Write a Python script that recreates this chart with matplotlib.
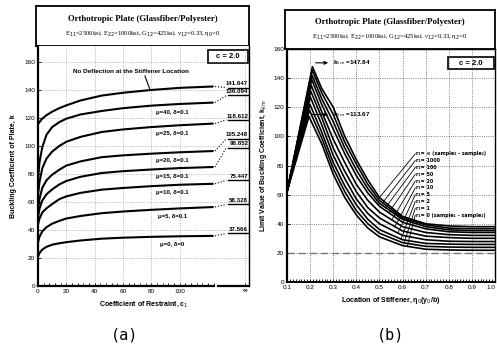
import numpy as np
import matplotlib
matplotlib.use("Agg")
import matplotlib.pyplot as plt
from matplotlib.patches import Rectangle

plt.rcParams['font.family'] = ['Liberation Sans Narrow', 'Liberation Sans', 'DejaVu Sans']

# ---- panel (a): buckling coefficient vs coefficient of restraint ----
c1 = [0, 1, 3, 6, 10, 15, 20, 30, 45, 60, 80, 100, 124]
k_no_defl = [115.5, 117, 119.5, 122, 124.5, 127, 129, 132.5, 136, 138, 140, 141.5, 142.5]
k_mu40 = [76, 88, 99, 108, 113.5, 117, 119.5, 122.5, 125, 127, 128.8, 130, 131]
k_mu25 = [65, 74, 84, 91, 96, 100, 103, 106.5, 110, 111.8, 113.5, 114.8, 116]
k_mu20 = [54, 62, 70, 75.5, 79.5, 83, 86, 89, 92, 93.3, 94.5, 95.5, 96.4]
k_mu15 = [49, 55, 61, 65.5, 69, 72.5, 75, 78, 80.7, 82, 83.2, 84.2, 85]
k_mu10 = [44, 48, 52.5, 55.5, 58.5, 62, 64, 66.5, 68.8, 70, 71.3, 72.3, 73]
k_mu5 = [31, 35, 39, 42, 44.5, 46.5, 48.2, 50, 52, 53.2, 54.4, 55.4, 56.4]
k_mu0 = [21, 23.5, 26, 28, 29.5, 30.5, 31.3, 32.5, 33.8, 34.5, 35.1, 35.5, 35.8]
curves_a = [k_no_defl, k_mu40, k_mu25, k_mu20, k_mu15, k_mu10, k_mu5, k_mu0]
curve_names = [None, "μ=40, δ=0.1", "μ=25, δ=0.1", "μ=20, δ=0.1", "μ=15, δ=0.1",
               "μ=10, δ=0.1", "μ=5, δ=0.1", "μ=0, δ=0"]
k_limit = [141.647, 136.094, 118.612, 105.248, 98.852, 75.447, 58.328, 37.566]
x_ticks_a = [0, 20, 40, 60, 80, 100]
c1_inf = 146

# ---- panel (b): limit value vs stiffener location ----
r1_names = ["∞ (sample₃ - sample₂)", "1000", "100", "50", "20", "10", "5", "2", "1",
            "0 (sample₁ - sample₂)"]
eta_start, k_start = 0.1, 62
peak_eta = [0.21, 0.209, 0.208, 0.207, 0.205, 0.203, 0.201, 0.199, 0.197, 0.195]
peak_k = [147.84, 145.5, 142, 139, 135, 131, 127, 122, 118, 113.67]
eta = [0.25, 0.3, 0.35, 0.4, 0.45, 0.5, 0.6, 0.7, 0.8, 0.9, 1.0]
k_r_inf = [133, 120, 100, 84, 70, 58, 45, 40, 38.5, 38, 38]
k_r1000 = [130, 115, 96, 81, 67, 56, 44, 39.3, 37, 36.6, 36.6]
k_r100 = [126, 110, 92, 77, 64, 54, 43, 38, 35.8, 35.3, 35.3]
k_r50 = [122, 105, 88, 73, 61, 52, 41, 36.5, 34.5, 34, 34]
k_r20 = [117, 98, 82, 67, 56, 48, 38, 34, 32.5, 32, 32]
k_r10 = [113, 92, 76, 62, 51, 44, 35, 31.5, 30.5, 30, 30]
k_r5 = [108, 87, 71, 57, 47, 40, 32, 29, 28, 27.8, 27.8]
k_r2 = [103, 82, 66, 53, 43, 36, 29, 26.5, 26, 25.8, 25.8]
k_r1 = [99, 78, 62, 49, 40, 33.5, 27, 24.5, 24, 23.8, 23.8]
k_r0 = [95, 74, 58, 46, 37, 31, 25, 22.5, 22, 21.8, 21.8]
curves_b = [k_r_inf, k_r1000, k_r100, k_r50, k_r20, k_r10, k_r5, k_r2, k_r1, k_r0]

W, H = 497, 347
fig = plt.figure(figsize=(W / 100, H / 100), dpi=100)


def rect(x0, y0, x1, y1):
    return [x0 / W, 1 - y1 / H, (x1 - x0) / W, (y1 - y0) / H]


def title_box(r, sub):
    t = fig.add_axes(r)
    t.set_xticks([])
    t.set_yticks([])
    for s in t.spines.values():
        s.set_linewidth(1.3)
    t.text(0.5, 0.68, "Orthotropic Plate (Glassfiber/Polyester)", ha='center', va='center',
           fontsize=6.3, fontweight='bold', family=['Liberation Serif', 'DejaVu Serif'])
    t.text(0.5, 0.3, sub, ha='center', va='center', fontsize=4.8,
           family=['Liberation Serif', 'DejaVu Serif'])


# ---------------- panel (a) ----------------
title_box(rect(36, 6, 249, 46),
          "E$_{11}$=2500ksi, E$_{22}$=1000ksi, G$_{12}$=425ksi, ν$_{12}$=0.33, η$_0$=0")
ax = fig.add_axes(rect(38, 46, 249, 286))
ax.set_xlim(0, 149)
ax.set_ylim(0, 171.4)
for i, k in enumerate(curves_a):
    ax.plot(c1, k, color='black', lw=1.5, solid_capstyle='butt')
    # dotted connector to the value at infinity
    ax.plot([c1[-1] + 1, 133], [k[-1], k_limit[i]], color='black', lw=0.8, ls=(0, (1, 1.6)))
    ax.plot([134, 149], [k_limit[i], k_limit[i]], color='black', lw=1.0)
    ax.text(148.5, k_limit[i] + 1, f"{k_limit[i]:.3f}", ha='right', va='bottom',
            fontsize=4.4, fontweight='bold')
    if curve_names[i]:
        ax.text(95, np.interp(95, c1, k) - 5.5, curve_names[i], ha='center', va='center',
                fontsize=4.3, fontweight='bold')
ax.text(25, 153, "No Deflection at the Stiffener Location", ha='left', va='center',
        fontsize=4.6, fontweight='bold')
ax.plot([75.5, 79], [150, np.interp(79, c1, k_no_defl) + 0.5], color='black', lw=0.8)
ax.add_patch(Rectangle((120, 159.5), 28, 9, fill=False, lw=1.2, clip_on=False))
ax.text(134, 164, "c = 2.0", ha='center', va='center', fontsize=5.5, fontweight='bold')

ax.set_yticks(range(0, 161, 20))
ax.set_xticks(x_ticks_a + [c1_inf])
ax.set_xticklabels([str(v) for v in x_ticks_a] + ["∞"])
ax.get_xticklabels()[-1].set_fontsize(10)
ax.get_xticklabels()[-1].set_fontweight('bold')
ax.tick_params(axis='both', labelsize=4.6, length=2, direction='in', width=0.6, pad=2)
ax.set_xticks(np.arange(0, 125, 4), minor=True)
ax.tick_params(axis='x', which='minor', length=2, direction='in', width=0.6)
ax.grid(True, ls=':', color='0.55', lw=0.5)
ax.spines['bottom'].set_visible(False)
ax.spines['top'].set_visible(False)
ax.spines['left'].set_linewidth(1.6)
ax.spines['right'].set_linewidth(1.0)
ax.plot([0, 124], [0, 0], color='black', lw=1.6, clip_on=False)
ax.plot([127, 149], [0, 0], color='black', lw=1.6, clip_on=False)
ax.set_xlabel("Coefficient of Restraint, c$_1$", fontsize=5, fontweight='bold', labelpad=4)
ax.set_ylabel("Buckling Coefficient of Plate, k", fontsize=5, fontweight='bold', labelpad=5)
fig.text(125 / W, 1 - 335 / H, "(a)", ha='center', va='center', fontsize=11,
         family=['DejaVu Sans Mono'])

# ---------------- panel (b) ----------------
title_box(rect(285, 10, 495, 49),
          "E$_{11}$=2500ksi, E$_{22}$=1000ksi, G$_{12}$=425ksi, ν$_{12}$=0.33, η$_2$=0")
bx = fig.add_axes(rect(287, 49, 495, 282))
bx.set_xlim(0.1, 1.0)
bx.set_ylim(0, 160)
bx.grid(True, ls=':', color='0.35', lw=0.6)
bx.axhline(20, color='0.45', lw=1.0, ls=(0, (5, 3)))

label_y = np.linspace(88, 46, len(curves_b))
end_x = np.linspace(0.50, 0.62, len(curves_b))
for i, k in enumerate(curves_b):
    xs = [eta_start, peak_eta[i]] + eta
    ys = [k_start, peak_k[i]] + k
    bx.plot(xs, ys, color='black', lw=1.2)
    y_end = np.interp(end_x[i], xs, ys)
    bx.plot([end_x[i], 0.655], [y_end, label_y[i]], color='black', lw=0.6)
    bx.text(0.66, label_y[i], "r₁= " + r1_names[i], ha='left', va='center', fontsize=3.5,
            fontweight='bold', family=['Liberation Sans Narrow', 'DejaVu Sans'])

bx.annotate("", xy=(0.29, 150.5), xytext=(0.212, 150.5),
            arrowprops=dict(arrowstyle='-|>', lw=0.8, color='black', mutation_scale=5))
bx.text(0.3, 150.5, "k$_{lim}$ =147.84", ha='left', va='center', fontsize=4.6, fontweight='bold')
bx.annotate("", xy=(0.29, 115), xytext=(0.197, 115),
            arrowprops=dict(arrowstyle='-|>', lw=0.8, color='black', mutation_scale=5))
bx.text(0.3, 115, "k$_{lim}$ =113.67", ha='left', va='center', fontsize=4.6, fontweight='bold')

bx.add_patch(Rectangle((0.797, 146), 0.2, 8.6, fill=False, lw=1.2, clip_on=False))
bx.text(0.897, 150.3, "c = 2.0", ha='center', va='center', fontsize=5.5, fontweight='bold')

bx.set_xticks(np.arange(0.1, 1.01, 0.1))
bx.set_xticklabels([f"{v:.1f}" for v in np.arange(0.1, 1.01, 0.1)])
bx.get_xticklabels()[-1].set_horizontalalignment('right')
bx.set_yticks(range(0, 161, 20))
bx.set_xticks(np.arange(0.1, 1.0, 0.0125), minor=True)
bx.tick_params(axis='both', labelsize=4.6, length=2, direction='in', width=0.6, pad=2)
bx.tick_params(axis='x', which='minor', length=2, direction='in', width=0.6)
bx.spines['left'].set_linewidth(1.6)
bx.spines['bottom'].set_linewidth(1.4)
bx.spines['top'].set_linewidth(1.0)
bx.spines['right'].set_linewidth(1.0)
bx.set_xlabel("Location of Stiffener, η$_0$(y$_0$/b)", fontsize=5, fontweight='bold', labelpad=4)
bx.set_ylabel("Limit Value of Buckling Coefficient, k$_{lim}$", fontsize=5, fontweight='bold',
              labelpad=3)
fig.text(391 / W, 1 - 335 / H, "(b)", ha='center', va='center', fontsize=11,
         family=['DejaVu Sans Mono'])

fig.savefig("out.png", dpi=100)
